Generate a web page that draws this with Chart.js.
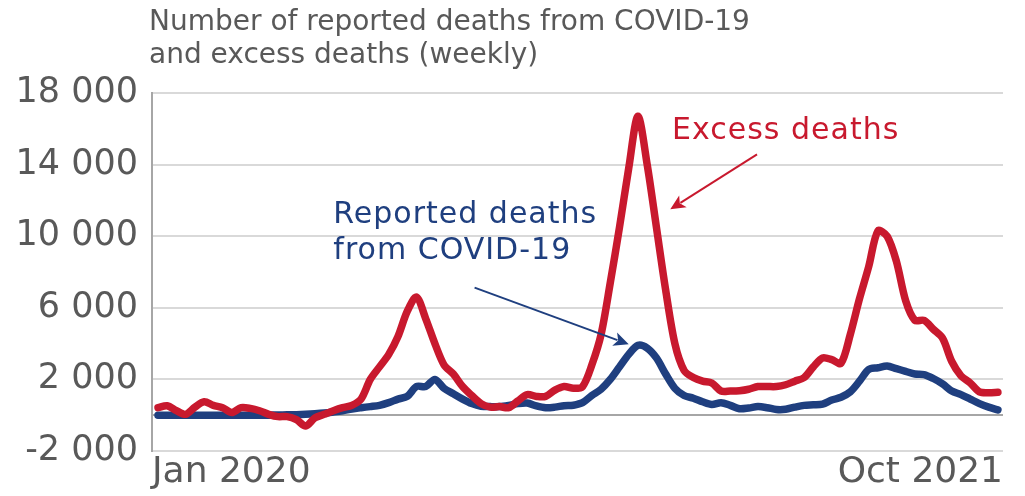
<!DOCTYPE html>
<html>
<head>
<meta charset="utf-8">
<script src="https://cdn.jsdelivr.net/npm/chart.js@4.4.1/dist/chart.umd.min.js"></script>
<style>
  html, body { margin: 0; padding: 0; background: #fff; }
  #wrap { width: 1025px; height: 496px; position: relative; }
</style>
</head>
<body>
<div id="wrap"><canvas id="deaths-chart"></canvas></div>
<script>
// Weekly values, Jan 2020 (week 0) to Oct 2021 (week 91)
const excessDeaths = [
  420, 530, 250, 50, 450, 750, 550, 420, 150, 420,
  380, 250, 50, -80, -80, -250, -600, -150, 50, 250,
  420, 550, 900, 2000, 2700, 3400, 4400, 5800, 6600, 5400,
  4000, 2800, 2300, 1600, 1100, 650, 450, 480, 420, 800,
  1150, 1050, 1050, 1400, 1600, 1500, 1600, 2800, 4500, 7400,
  10500, 13800, 16700, 14000, 10500, 7000, 4000, 2500, 2100, 1900,
  1800, 1350, 1350, 1370, 1450, 1600, 1600, 1600, 1700, 1900,
  2100, 2700, 3200, 3100, 2900, 4500, 6500, 8300, 10300, 10000,
  8600, 6400, 5300, 5300, 4800, 4300, 3000, 2200, 1800, 1300,
  1250, 1280
];
const reportedDeaths = [
  0, 0, 0, 0, 0, 0, 0, 0, 0, 0,
  0, 0, 0, 10, 20, 30, 50, 80, 120, 180,
  250, 350, 420, 480, 550, 700, 900, 1050, 1600, 1600,
  2000, 1500, 1200, 900, 650, 500, 480, 480, 550, 650,
  680, 520, 420, 450, 530, 560, 700, 1100, 1450, 2000,
  2700, 3400, 3900, 3750, 3200, 2300, 1500, 1100, 950, 750,
  600, 700, 550, 360, 400, 480, 420, 320, 330, 450,
  550, 580, 620, 850, 1000, 1300, 1900, 2550, 2650, 2750,
  2600, 2450, 2300, 2270, 2050, 1750, 1350, 1150, 900, 650,
  450, 300
];
const xTickLabels = ['Jan 2020', 'Oct 2021'];
const yTicks = [-2000, 2000, 6000, 10000, 14000, 18000];
const titleLines = ['Number of reported deaths from COVID-19', 'and excess deaths (weekly)'];

const RED = '#c8192e';
const BLUE = '#1f3f7f';
const GREY = '#595959';

// labels and arrows, placed in data units (week, deaths)
const notes = [
  { lines: ['Excess deaths'], color: RED, week: 55.7, value: 15880,
    arrow: { from: [64.9, 14570], to: [55.5, 11500], width: 2 } },
  { lines: ['Reported deaths', 'from COVID-19'], color: BLUE, week: 19, value: 11200,
    arrow: { from: [34.3, 7130], to: [51.0, 3960], width: 2 } }
];

function fmt(n){
  const s = Math.abs(n).toString().replace(/\B(?=(\d{3})+(?!\d))/g, ' ');
  return (n < 0 ? '-' : '') + s;
}

function toPoints(arr){
  return arr.map((v, i) => ({ x: i, y: v }));
}

function drawArrow(ctx, x1, y1, x2, y2, color, w){
  const ang = Math.atan2(y2 - y1, x2 - x1);
  const head = 15, half = 7;
  const c = Math.cos(ang), s = Math.sin(ang);
  ctx.strokeStyle = color;
  ctx.fillStyle = color;
  ctx.lineWidth = w;
  ctx.beginPath();
  ctx.moveTo(x1, y1);
  ctx.lineTo(x2 - c * head * 0.8, y2 - s * head * 0.8);
  ctx.stroke();
  ctx.beginPath();
  ctx.moveTo(x2, y2);
  ctx.lineTo(x2 - c * head + s * half, y2 - s * head - c * half);
  ctx.lineTo(x2 - c * head * 0.75, y2 - s * head * 0.75);
  ctx.lineTo(x2 - c * head - s * half, y2 - s * head + c * half);
  ctx.closePath();
  ctx.fill();
}

// title over the plot, starting at the y axis line
const titlePlugin = {
  id: 'leftTitle',
  afterDraw(chart){
    const ctx = chart.ctx;
    ctx.save();
    ctx.font = '28px "DejaVu Sans"';
    ctx.fillStyle = GREY;
    ctx.textAlign = 'left';
    ctx.textBaseline = 'alphabetic';
    titleLines.forEach((t, i) => ctx.fillText(t, chart.chartArea.left - 3, 30 + i * 33));
    ctx.restore();
  }
};

const notesPlugin = {
  id: 'notes',
  afterDatasetsDraw(chart){
    const ctx = chart.ctx;
    const xs = chart.scales.x, ys = chart.scales.y;
    ctx.save();
    for (let n of notes){
      ctx.font = '30px "DejaVu Sans"';
      ctx.letterSpacing = '1px';
      ctx.fillStyle = n.color;
      ctx.textAlign = 'left';
      ctx.textBaseline = 'middle';
      const x = xs.getPixelForValue(n.week);
      const y = ys.getPixelForValue(n.value);
      n.lines.forEach((t, i) => ctx.fillText(t, x, y + i * 36));
      const a = n.arrow;
      drawArrow(ctx,
        xs.getPixelForValue(a.from[0]), ys.getPixelForValue(a.from[1]),
        xs.getPixelForValue(a.to[0]), ys.getPixelForValue(a.to[1]),
        n.color, a.width);
    }
    ctx.restore();
  }
};

const ctx = document.getElementById('deaths-chart').getContext('2d');
const chart = new Chart(ctx, {
  type: 'line',
  data: {
    datasets: [
      { label: 'Excess deaths', data: toPoints(excessDeaths), borderColor: RED, borderWidth: 7.5,
        pointRadius: 0, tension: 0.3, borderJoinStyle: 'round', borderCapStyle: 'round' },
      { label: 'Reported deaths from COVID-19', data: toPoints(reportedDeaths), borderColor: BLUE, borderWidth: 7.5,
        pointRadius: 0, tension: 0.3, borderJoinStyle: 'round', borderCapStyle: 'round' }
    ]
  },
  options: {
    responsive: true,
    maintainAspectRatio: false,
    animation: false,
    layout: { padding: { top: 93, right: 22, bottom: 1, left: 12 } },
    plugins: { legend: { display: false }, tooltip: { enabled: false }, title: { display: false } },
    scales: {
      x: {
        type: 'linear',
        min: -0.65,
        max: 91.55,
        grid: { display: false, drawTicks: false },
        border: { display: false },
        afterBuildTicks: (scale) => { scale.ticks = [{ value: scale.min }, { value: scale.max }]; },
        ticks: {
          align: 'inner',
          padding: 4,
          maxRotation: 0,
          color: GREY,
          font: { family: '"DejaVu Sans"', size: 36, lineHeight: 1 },
          callback: (v, i) => xTickLabels[i]
        }
      },
      y: {
        min: -2000,
        max: 18000,
        afterBuildTicks: (scale) => {
          const t = yTicks.map(v => ({ value: v }));
          t.splice(1, 0, { value: 0 });
          scale.ticks = t;
        },
        afterFit: (scale) => { scale.width = 140; },
        grid: {
          drawTicks: false,
          lineWidth: 2,
          color: (c) => c.tick && c.tick.value === 0 ? '#a6a6a6' : '#d9d9d9'
        },
        border: { display: true, color: '#a6a6a6', width: 2 },
        ticks: {
          padding: 14,
          color: GREY,
          font: { family: '"DejaVu Sans"', size: 35, lineHeight: 1 },
          callback: (v) => v === 0 ? '' : fmt(v)
        }
      }
    }
  },
  plugins: [titlePlugin, notesPlugin]
});
</script>
</body>
</html>
